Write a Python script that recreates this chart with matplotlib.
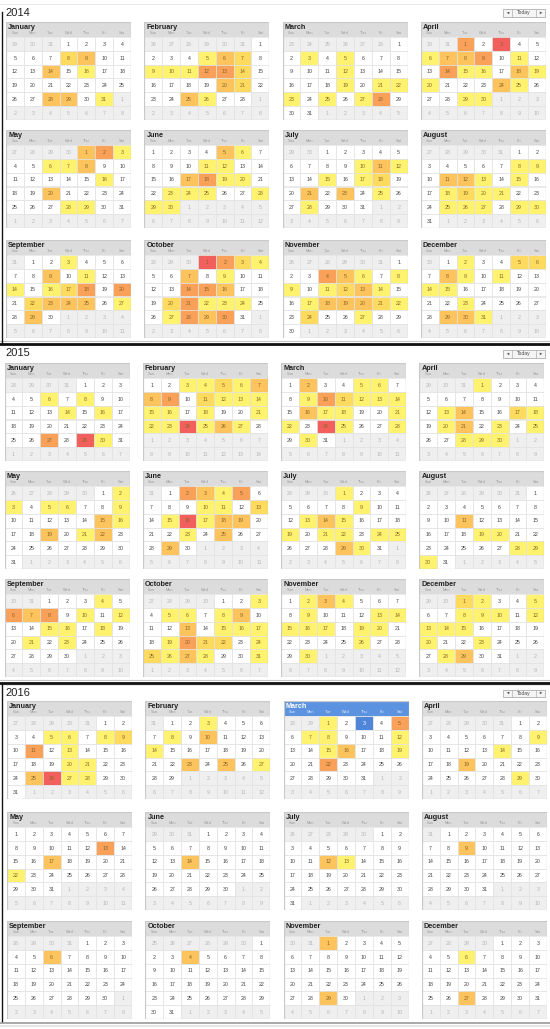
import datetime as dt
import matplotlib
matplotlib.use('Agg')
import matplotlib.pyplot as plt
from matplotlib.patches import Rectangle

plt.rcParams['font.family'] = ['Liberation Sans', 'DejaVu Sans']

# Data: day -> heat level (1 = yellow ... 5 = red)
years = [2014, 2015, 2016]
month_names = ['January', 'February', 'March', 'April', 'May', 'June',
               'July', 'August', 'September', 'October', 'November', 'December']
dow_labels = ['Sun', 'Mon', 'Tue', 'Wed', 'Thu', 'Fri', 'Sat']
level_colors = ['#ffffff', '#fff26e', '#fedb5e', '#fdc35d', '#f9a159', '#f2605d']
today = dt.date(2016, 3, 3)

heat_2014 = {
    1: {8: 2, 9: 3, 14: 3, 16: 1, 28: 3, 29: 3, 31: 1},
    2: {5: 1, 6: 3, 7: 2, 9: 1, 10: 1, 11: 1, 12: 4, 13: 4, 14: 2, 20: 3, 21: 2, 25: 3, 26: 1},
    3: {3: 1, 5: 1, 12: 1, 19: 1, 21: 1, 22: 1, 23: 1, 25: 1, 27: 1, 28: 4},
    4: {1: 4, 3: 5, 6: 1, 7: 3, 8: 3, 9: 4, 11: 1, 14: 4, 15: 1, 16: 1, 18: 3, 19: 1,
        20: 1, 24: 3, 25: 1, 29: 1, 30: 1},
    5: {1: 3, 2: 4, 3: 1, 6: 1, 7: 1, 8: 3, 16: 1, 20: 3, 28: 1, 29: 1},
    6: {5: 3, 6: 1, 11: 1, 12: 1, 17: 3, 18: 4, 19: 1, 20: 1, 23: 1, 24: 1, 25: 1, 28: 1,
        29: 1, 30: 1},
    7: {10: 1, 11: 3, 12: 1, 15: 1, 17: 1, 18: 2, 21: 3, 23: 3, 25: 1, 28: 1},
    8: {8: 1, 9: 1, 11: 3, 12: 3, 13: 1, 15: 1, 18: 1, 19: 2, 20: 1, 21: 1, 25: 1, 26: 1,
        27: 1, 29: 1, 30: 1},
    9: {3: 1, 9: 3, 11: 1, 14: 1, 16: 1, 17: 2, 18: 4, 20: 4, 22: 2, 23: 3, 24: 3, 25: 3,
        27: 1, 29: 3},
    10: {1: 5, 2: 4, 3: 2, 4: 1, 7: 3, 9: 1, 14: 4, 15: 4, 16: 3, 20: 2, 21: 4, 22: 1,
         23: 1, 24: 1, 27: 1, 28: 4, 29: 3, 30: 4},
    11: {4: 4, 5: 3, 6: 1, 8: 1, 9: 1, 11: 1, 12: 2, 13: 3, 14: 1, 17: 1, 18: 3, 19: 3,
         20: 3, 21: 2, 22: 1, 24: 2, 27: 1},
    12: {2: 1, 5: 2, 6: 2, 8: 3, 9: 1, 11: 1, 14: 1, 15: 1, 23: 1, 29: 3, 30: 3, 31: 1},
}

heat_2015 = {
    1: {6: 1, 8: 1, 14: 1, 16: 1, 27: 4, 29: 5, 30: 1},
    2: {3: 1, 4: 1, 5: 2, 6: 1, 7: 3, 8: 3, 9: 4, 11: 2, 12: 1, 13: 1, 14: 1, 15: 1,
        16: 1, 18: 1, 21: 1, 22: 1, 23: 1, 24: 5, 25: 1, 26: 3, 27: 1},
    3: {2: 3, 5: 1, 6: 1, 9: 1, 10: 4, 11: 2, 12: 1, 13: 1, 14: 1, 16: 3, 17: 1, 18: 1,
        21: 1, 22: 1, 24: 5, 25: 1, 28: 1, 30: 1},
    4: {1: 1, 13: 1, 14: 3, 17: 2, 18: 1, 20: 1, 21: 3, 23: 1, 25: 1, 28: 1, 29: 1, 30: 1},
    5: {2: 1, 3: 1, 5: 1, 6: 1, 9: 1, 15: 3, 16: 1, 19: 3, 21: 1, 22: 3},
    6: {2: 4, 3: 3, 4: 1, 5: 4, 10: 1, 11: 1, 13: 2, 15: 1, 16: 5, 17: 1, 18: 3, 19: 3,
        23: 1, 25: 3, 29: 3},
    7: {1: 1, 9: 1, 13: 1, 14: 3, 15: 1, 19: 1, 21: 1, 22: 1, 24: 1, 25: 1, 29: 3, 30: 1},
    8: {11: 3, 19: 1, 20: 1, 28: 1, 29: 1, 30: 1},
    9: {4: 1, 6: 4, 7: 3, 8: 4, 10: 1, 12: 1, 15: 1, 16: 1, 18: 1, 21: 1, 23: 1},
    10: {3: 1, 5: 1, 6: 1, 8: 1, 9: 3, 13: 3, 15: 1, 16: 1, 17: 1, 19: 1, 20: 4, 21: 2,
         22: 2, 24: 1, 25: 2, 26: 1, 27: 3, 28: 1, 31: 1},
    11: {2: 1, 3: 3, 4: 1, 9: 1, 13: 1, 14: 1, 15: 1, 16: 1, 17: 1, 19: 1, 20: 1, 26: 1,
         30: 1},
    12: {1: 2, 2: 1, 5: 1, 8: 1, 9: 1, 10: 1, 12: 1, 13: 1, 14: 1, 15: 1, 20: 1, 23: 1,
         28: 1, 29: 3},
}

heat_2016 = {
    1: {5: 1, 6: 1, 8: 1, 9: 2, 11: 4, 13: 1, 20: 1, 21: 1, 25: 3, 26: 5, 27: 1, 28: 1},
    2: {3: 1, 8: 1, 10: 3, 14: 1, 23: 3, 25: 3, 27: 1},
    3: {1: 1, 5: 4, 7: 1, 8: 1, 12: 1, 15: 1, 16: 3, 19: 1, 22: 4},
    4: {9: 1, 14: 1, 19: 3, 29: 1},
    5: {13: 4, 17: 3, 22: 1},
    6: {14: 3},
    7: {12: 3, 13: 1},
    8: {9: 3},
    9: {6: 3},
    10: {4: 3},
    11: {1: 3, 29: 3},
    12: {6: 1, 27: 3},
}

heat = {2014: heat_2014, 2015: heat_2015, 2016: heat_2016}

# Layout in pixels (the picture is three stacked screenshots)
W, H = 550, 1029
title_y = [12.5, 353.5, 693]
row_tops = [[22, 130, 240], [363, 471, 579], [701, 812, 921]]
year_shift = [0, -1.5, 1]
col_x = [6, 144.3, 282.6, 420.8]
box_w, box_h, head_h = 125, 98, 15
row_h = (box_h - head_h) / 6.0
hh = head_h / row_h

fig = plt.figure(figsize=(W / 100, H / 100), dpi=100)
fig.patch.set_facecolor('white')

bg = fig.add_axes([0, 0, 1, 1])
bg.set_xlim(0, W)
bg.set_ylim(H, 0)
bg.axis('off')


def draw_month(ax, year, month):
    levels = heat[year].get(month, {})
    first = dt.date(year, month, 1)
    start = first - dt.timedelta(days=(first.weekday() + 1) % 7)
    is_now = (year, month) == (today.year, today.month)
    head_fc = '#5b93e0' if is_now else '#dcdcdc'
    name_c = 'white' if is_now else '#222222'
    dow_c = '#e6eefa' if is_now else '#999999'

    ax.add_patch(Rectangle((0, -hh), 7, hh, fc=head_fc, ec='none'))
    ax.text(0.12, -hh * 0.66, month_names[month - 1], fontsize=5.2, fontweight='bold',
            color=name_c, ha='left', va='center')
    for c, lab in enumerate(dow_labels):
        ax.text(c + 0.5, -0.27, lab, fontsize=2.8, color=dow_c, ha='center', va='center')

    for r in range(6):
        for c in range(7):
            d = start + dt.timedelta(days=7 * r + c)
            if d.month != month:
                fc, tc = '#efefef', '#b5b5b5'
            elif d == today:
                fc, tc = '#4f86d9', 'white'
            else:
                lv = levels.get(d.day, 0)
                fc = level_colors[lv]
                tc = '#85652a' if lv else '#444444'
            ax.add_patch(Rectangle((c, r), 1, 1, fc=fc, ec='#e1e1e1', lw=0.5))
            ax.text(c + 0.5, r + 0.52, str(d.day), fontsize=3.8, color=tc,
                    ha='center', va='center')

    ax.add_patch(Rectangle((0, -hh), 7, 6 + hh, fill=False, ec='#c9c9c9', lw=0.9))


for yi, year in enumerate(years):
    ty = title_y[yi]
    bg.plot([0, W], [ty - 8.5, ty - 8.5], color='#e4e4e4', lw=0.6)
    bg.text(5, ty, str(year), fontsize=8, color='#222222', ha='left', va='center')

    # prev / today / next buttons
    bx, by = 503, ty - 3.5
    bg.add_patch(Rectangle((bx, by), 42, 7.5, fc='#f4f4f4', ec='#b0b0b0', lw=0.6))
    bg.plot([bx + 9, bx + 9], [by, by + 7.5], color='#b0b0b0', lw=0.5)
    bg.plot([bx + 33, bx + 33], [by, by + 7.5], color='#b0b0b0', lw=0.5)
    bg.text(bx + 4.5, by + 3.9, '◄', fontsize=3, color='#444444', ha='center', va='center')
    bg.text(bx + 21, by + 3.9, 'Today', fontsize=3.6, color='#444444', ha='center',
            va='center')
    bg.text(bx + 37.5, by + 3.9, '►', fontsize=3, color='#444444', ha='center', va='center')

    for m in range(12):
        x0 = col_x[m % 4] + year_shift[yi]
        y0 = row_tops[yi][m // 4]
        ax = fig.add_axes([x0 / W, 1 - (y0 + box_h) / H, box_w / W, box_h / H])
        ax.set_xlim(0, 7)
        ax.set_ylim(6, -hh)
        ax.axis('off')
        draw_month(ax, year, m + 1)

# frame lines between the stacked screenshots
for ys in [344, 682.5]:
    bg.plot([0, W], [ys - 3, ys - 3], color='#c4c4c4', lw=0.8)
    bg.plot([0, W], [ys, ys], color='#111111', lw=2)
bg.plot([2, 2], [12, 344], color='#111111', lw=1)
bg.plot([2, 2], [684, 1022], color='#111111', lw=1)
bg.plot([0, W], [1023, 1023], color='#9a9a9a', lw=1.2)
bg.plot([0, W], [1026, 1026], color='#e2e2e2', lw=1.2)

fig.savefig('out.png', dpi=100, facecolor='white')
